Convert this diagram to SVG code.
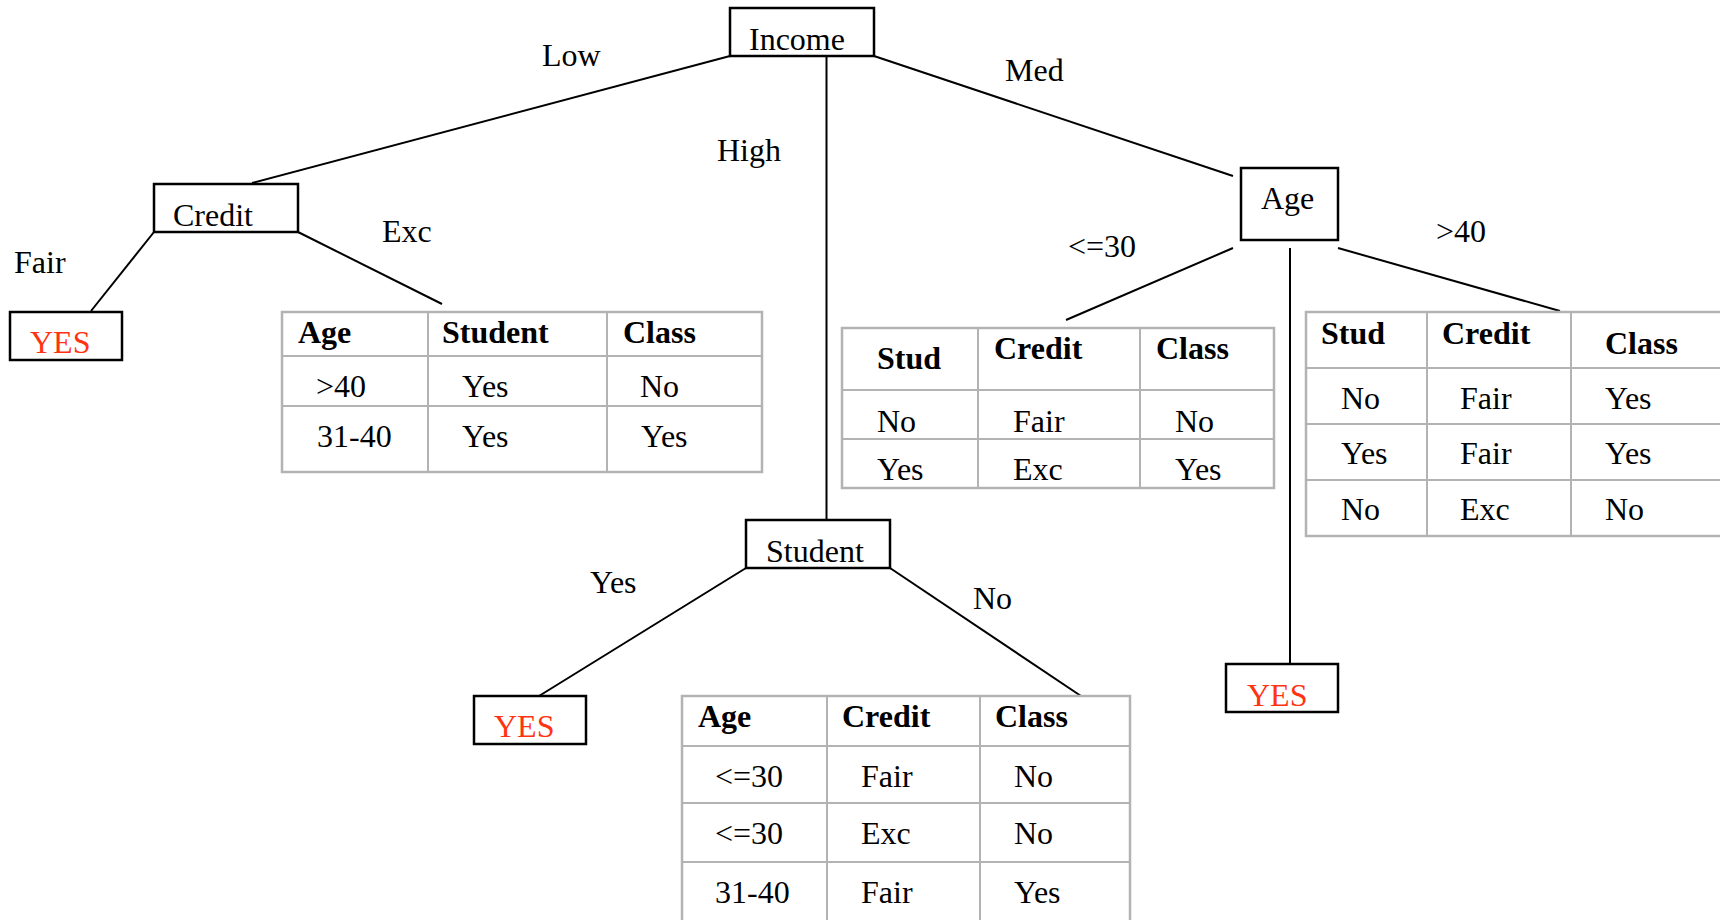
<svg xmlns="http://www.w3.org/2000/svg" width="1720" height="920" viewBox="0 0 1720 920">
<style>
text{font-family:"Liberation Serif","Times New Roman",serif;font-size:32px;fill:#000}
.b{font-weight:bold}
.r{fill:#ff3311}
.box{fill:#fff;stroke:#000;stroke-width:2.5}
.edge{stroke:#000;stroke-width:2;fill:none}
.tb{fill:#fff;stroke:#b3b3b3;stroke-width:2.5}
.tl{stroke:#b3b3b3;stroke-width:2}
</style>
<rect width="1720" height="920" fill="#fff"/>
<g id="connectors">
<line class="edge" x1="730" y1="56" x2="252" y2="183"/>
<line class="edge" x1="826.5" y1="56" x2="826.5" y2="520"/>
<line class="edge" x1="874" y1="56" x2="1233" y2="176"/>
<line class="edge" x1="154" y1="232" x2="91" y2="311"/>
<line class="edge" x1="298" y1="232" x2="442" y2="304"/>
<line class="edge" x1="1233" y1="248" x2="1066" y2="320"/>
<line class="edge" x1="1290" y1="248" x2="1290" y2="663"/>
<line class="edge" x1="1338" y1="248" x2="1560" y2="311"/>
<line class="edge" x1="746" y1="568" x2="539" y2="696"/>
<line class="edge" x1="890" y1="568" x2="1081" y2="696"/>
</g>
<g id="edge-labels">
<text x="542" y="66">Low</text>
<text x="717" y="161">High</text>
<text x="1005" y="81">Med</text>
<text x="382" y="242">Exc</text>
<text x="14" y="273">Fair</text>
<text x="1068" y="257">&lt;=30</text>
<text x="1436" y="242">&gt;40</text>
<text x="590" y="593">Yes</text>
<text x="973" y="609">No</text>
</g>
<g id="income">
<rect class="box" x="730" y="8" width="144" height="48"/>
<text x="749" y="50">Income</text>
</g>
<g id="credit">
<rect class="box" x="154" y="184" width="144" height="48"/>
<text x="173" y="226">Credit</text>
</g>
<g id="yes-fair">
<rect class="box" x="10" y="312" width="112" height="48"/>
<text class="r" x="30" y="353">YES</text>
</g>
<g id="table-exc">
<rect class="tb" x="282" y="312" width="480" height="160"/>
<line class="tl" x1="282" y1="356" x2="762" y2="356"/>
<line class="tl" x1="282" y1="406" x2="762" y2="406"/>
<line class="tl" x1="428" y1="312" x2="428" y2="472"/>
<line class="tl" x1="607" y1="312" x2="607" y2="472"/>
<text class="b" x="298" y="343">Age</text>
<text class="b" x="442" y="343">Student</text>
<text class="b" x="623" y="343">Class</text>
<text x="316" y="397">&gt;40</text>
<text x="462" y="397">Yes</text>
<text x="640" y="397">No</text>
<text x="317" y="447">31-40</text>
<text x="462" y="447">Yes</text>
<text x="641" y="447">Yes</text>
</g>
<g id="age">
<rect class="box" x="1241" y="168" width="97" height="72"/>
<text x="1261" y="209">Age</text>
</g>
<g id="table-le30">
<rect class="tb" x="842" y="328" width="432" height="160"/>
<line class="tl" x1="842" y1="390" x2="1274" y2="390"/>
<line class="tl" x1="842" y1="439" x2="1274" y2="439"/>
<line class="tl" x1="978" y1="328" x2="978" y2="488"/>
<line class="tl" x1="1140" y1="328" x2="1140" y2="488"/>
<text class="b" x="877" y="369">Stud</text>
<text class="b" x="994" y="359">Credit</text>
<text class="b" x="1156" y="359">Class</text>
<text x="877" y="432">No</text>
<text x="1013" y="432">Fair</text>
<text x="1175" y="432">No</text>
<text x="877" y="480">Yes</text>
<text x="1013" y="480">Exc</text>
<text x="1175" y="480">Yes</text>
</g>
<g id="table-gt40">
<rect class="tb" x="1306" y="312" width="420" height="224"/>
<line class="tl" x1="1306" y1="368" x2="1720" y2="368"/>
<line class="tl" x1="1306" y1="424" x2="1720" y2="424"/>
<line class="tl" x1="1306" y1="480" x2="1720" y2="480"/>
<line class="tl" x1="1427" y1="312" x2="1427" y2="536"/>
<line class="tl" x1="1571" y1="312" x2="1571" y2="536"/>
<text class="b" x="1321" y="344">Stud</text>
<text class="b" x="1442" y="344">Credit</text>
<text class="b" x="1605" y="354">Class</text>
<text x="1341" y="409">No</text>
<text x="1460" y="409">Fair</text>
<text x="1605" y="409">Yes</text>
<text x="1341" y="464">Yes</text>
<text x="1460" y="464">Fair</text>
<text x="1605" y="464">Yes</text>
<text x="1341" y="520">No</text>
<text x="1460" y="520">Exc</text>
<text x="1605" y="520">No</text>
</g>
<g id="yes-age">
<rect class="box" x="1226" y="664" width="112" height="48"/>
<text class="r" x="1247" y="706">YES</text>
</g>
<g id="student">
<rect class="box" x="746" y="520" width="144" height="48"/>
<text x="766" y="562">Student</text>
</g>
<g id="yes-student">
<rect class="box" x="474" y="696" width="112" height="48"/>
<text class="r" x="494" y="737">YES</text>
</g>
<g id="table-no">
<rect class="tb" x="682" y="696" width="448" height="226"/>
<line class="tl" x1="682" y1="746" x2="1130" y2="746"/>
<line class="tl" x1="682" y1="803" x2="1130" y2="803"/>
<line class="tl" x1="682" y1="862" x2="1130" y2="862"/>
<line class="tl" x1="827" y1="696" x2="827" y2="920"/>
<line class="tl" x1="980" y1="696" x2="980" y2="920"/>
<text class="b" x="698" y="727">Age</text>
<text class="b" x="842" y="727">Credit</text>
<text class="b" x="995" y="727">Class</text>
<text x="715" y="787">&lt;=30</text>
<text x="861" y="787">Fair</text>
<text x="1014" y="787">No</text>
<text x="715" y="844">&lt;=30</text>
<text x="861" y="844">Exc</text>
<text x="1014" y="844">No</text>
<text x="715" y="903">31-40</text>
<text x="861" y="903">Fair</text>
<text x="1014" y="903">Yes</text>
</g>
</svg>
